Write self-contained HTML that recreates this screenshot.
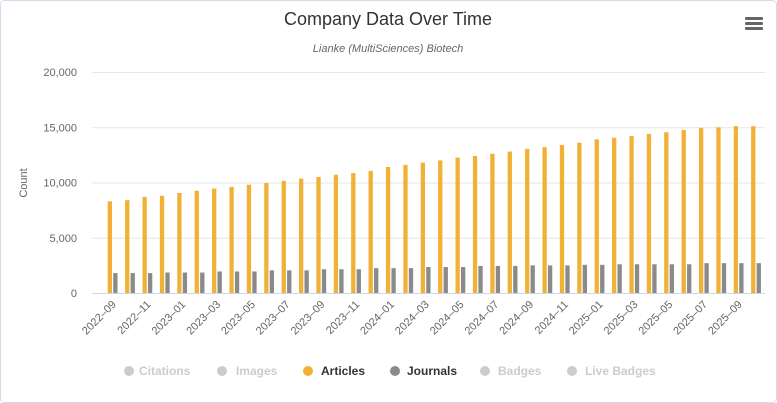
<!DOCTYPE html>
<html><head><meta charset="utf-8"><style>
body{margin:0;background:#fff;}
svg{display:block;font-family:"Liberation Sans",sans-serif;}
</style></head><body>
<svg id="c" width="777" height="403" viewBox="0 0 777 403" xmlns="http://www.w3.org/2000/svg">
<rect x="0.5" y="0.5" width="776" height="402" rx="4" fill="#fff" stroke="#d4dbe8"/>
<text x="388" y="25" text-anchor="middle" font-size="18" fill="#333">Company Data Over Time</text>
<text x="388" y="52" text-anchor="middle" font-size="11" font-style="italic" fill="#666">Lianke (MultiSciences) Biotech</text>
<g fill="#666"><rect x="745" y="17" width="18" height="3" rx="1"/><rect x="745" y="22" width="18" height="3" rx="1"/><rect x="745" y="27" width="18" height="3" rx="1"/></g>
<g id="grid" stroke="#e6e6e6" stroke-width="1"></g>
<g id="yl" font-size="11" fill="#666" text-anchor="end"></g>
<text transform="translate(27,183) rotate(-90)" text-anchor="middle" font-size="11" fill="#666">Count</text>
<g id="bars"></g>
<line x1="92" y1="293.5" x2="765" y2="293.5" stroke="#ccd6eb"/>
<g id="xl" font-size="11" fill="#666"></g>
<g font-size="12" font-weight="bold">
<circle cx="129" cy="371" r="5" fill="#ccc"/><text x="139" y="375" fill="#ccc">Citations</text>
<circle cx="222" cy="371" r="5" fill="#ccc"/><text x="236" y="375" fill="#ccc">Images</text>
<circle cx="308" cy="371" r="5" fill="#f1b136"/><text x="321" y="375" fill="#333">Articles</text>
<circle cx="395" cy="371" r="5" fill="#8a8a8a"/><text x="407" y="375" fill="#333">Journals</text>
<circle cx="485" cy="371" r="5" fill="#ccc"/><text x="498" y="375" fill="#ccc">Badges</text>
<circle cx="572" cy="371" r="5" fill="#ccc"/><text x="585" y="375" fill="#ccc">Live Badges</text>
</g>
</svg>
<script>
var ns="http://www.w3.org/2000/svg";
function el(p,t,a,txt){var e=document.createElementNS(ns,t);for(var k in a)e.setAttribute(k,a[k]);if(txt)e.textContent=txt;document.getElementById(p).appendChild(e);}
var y0=293,sc=221/20000;
for(var i=1;i<=4;i++){var y=y0-i*5000*sc;el("grid","line",{x1:92,x2:765,y1:y+0.5,y2:y+0.5});}
for(var i=0;i<=4;i++){el("yl","text",{x:77,y:y0-i*5000*sc+4},(i*5000).toLocaleString("en-US"));}
var a=[8300,8400,8700,8800,9050,9250,9450,9600,9800,9950,10150,10350,10500,10700,10850,11050,11400,11600,11800,12000,12250,12400,12600,12800,13050,13200,13400,13600,13900,14050,14200,14400,14550,14750,14950,15000,15100,15100];
var j=[1800,1800,1800,1850,1850,1850,1950,1950,1950,2050,2050,2050,2150,2150,2150,2250,2250,2250,2350,2350,2350,2450,2450,2450,2500,2500,2500,2550,2550,2600,2600,2600,2600,2600,2700,2700,2700,2700];
var L=104,w=17.39;
for(var i=0;i<38;i++){var c=L+w*i+w/2;
var h=a[i]*sc;el("bars","rect",{x:c-5,y:y0-h,width:4.3,height:h,fill:"#f1b136"});
h=j[i]*sc;el("bars","rect",{x:c+0.5,y:y0-h,width:4.3,height:h,fill:"#8a8a8a"});
if(i%2==0){var m=(8+i)%12+1,yr=2022+Math.floor((8+i)/12);var s=yr+"\u2013"+(m<10?"0":"")+m;
el("xl","text",{x:c+4,y:305,"text-anchor":"end",transform:"rotate(-45 "+(c+4)+" 305)"},s);}}
</script>
</body></html>
